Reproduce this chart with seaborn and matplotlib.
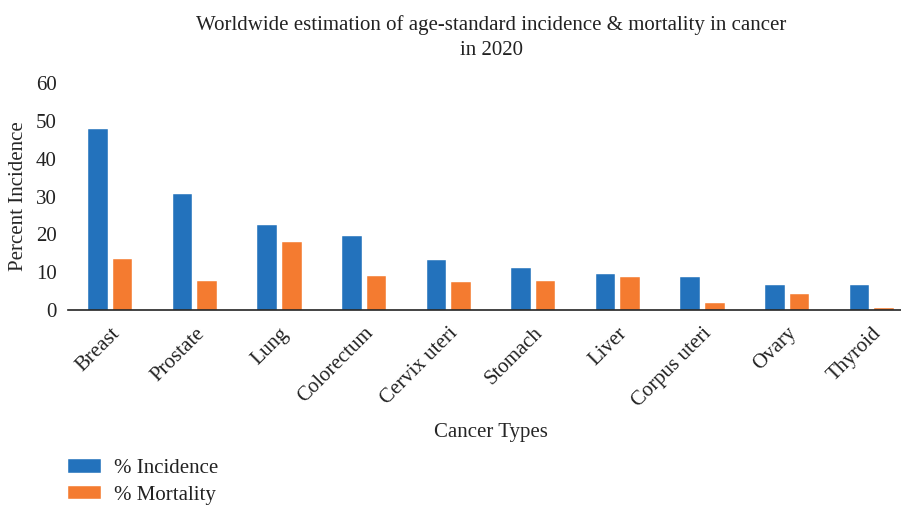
import pandas as pd
import seaborn as sns
import matplotlib.pyplot as plt

# data
cancers = ['Breast', 'Prostate', 'Lung', 'Colorectum', 'Cervix uteri',
           'Stomach', 'Liver', 'Corpus uteri', 'Ovary', 'Thyroid']
incidence = [47.8, 30.7, 22.4, 19.5, 13.3, 11.1, 9.5, 8.7, 6.6, 6.6]
mortality = [13.6, 7.7, 18.0, 9.0, 7.3, 7.7, 8.7, 1.8, 4.2, 0.4]
series = ['% Incidence', '% Mortality']
colors = ['#2372BC', '#F47B30']

df = pd.DataFrame({
    'cancer': cancers * 2,
    'value': incidence + mortality,
    'measure': [series[0]] * len(cancers) + [series[1]] * len(cancers),
})

sns.set_style('white')
plt.rcParams['font.family'] = ['Liberation Serif', 'DejaVu Serif']
plt.rcParams['text.color'] = '#222222'
fs = 15

fig = plt.figure(figsize=(9.01, 5.08), dpi=100)
ax = fig.add_axes([68 / 901, 1 - 310 / 508, 846 / 901, (310 - 83) / 508])

sns.barplot(data=df, x='cancer', y='value', hue='measure', palette=colors,
            saturation=1, width=0.58, gap=0.2, edgecolor='white',
            linewidth=0.3, ax=ax)

ax.set_ylim(0, 60)
ax.set_xlim(-0.5, 9.5)
ax.set_yticks(range(0, 61, 10))
for s in ['top', 'right', 'left']:
    ax.spines[s].set_visible(False)
ax.spines['bottom'].set_color('#222222')
ax.spines['bottom'].set_linewidth(1.2)
ax.tick_params(axis='both', length=0, labelsize=fs, colors='#222222')
ax.tick_params(axis='y', pad=8)
ax.tick_params(axis='x', pad=10)
plt.setp(ax.get_xticklabels(), rotation=45, ha='right', rotation_mode='anchor')

ax.set_ylabel('Percent Incidence', fontsize=fs, labelpad=6)
ax.set_xlabel('Cancer Types', fontsize=fs, labelpad=9)
ax.set_title('Worldwide estimation of age-standard incidence & mortality in cancer\nin 2020',
             fontsize=fs, pad=20, linespacing=1.45)

handles, labels = ax.get_legend_handles_labels()
ax.legend_.remove()
fig.legend(handles, labels, loc='upper left', bbox_to_anchor=(0.066, 0.112),
           frameon=False, fontsize=fs, handlelength=1.6, handleheight=0.6,
           labelspacing=0.35, handletextpad=0.6, borderaxespad=0)

fig.savefig('out.png', dpi=100)
